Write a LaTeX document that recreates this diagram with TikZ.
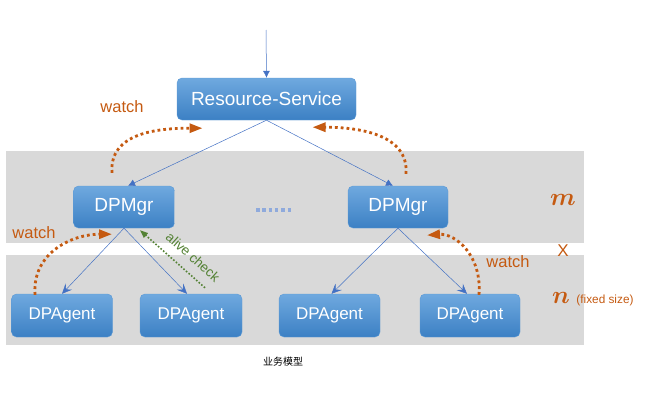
\documentclass[tikz,border=0pt]{standalone}
\usepackage{fontspec}
\setsansfont{Liberation Sans}
\newfontfamily\cjkfont{Noto Sans CJK SC}
\usetikzlibrary{arrows.meta,calc}
\definecolor{boxtop}{HTML}{6FA9DF}
\definecolor{boxbot}{HTML}{3C80C4}
\definecolor{boxedge}{HTML}{5C9AD6}
\definecolor{bandgray}{HTML}{D9D9D9}
\definecolor{connblue}{HTML}{4472C4}
\definecolor{dotblue}{HTML}{8FAADC}
\definecolor{watchorange}{HTML}{C55A11}
\definecolor{alivegreen}{HTML}{548235}
\begin{document}
\begin{tikzpicture}[x=1pt,y=-1pt,
  boxnode/.style={rectangle, rounded corners=5pt, top color=boxtop, bottom color=boxbot,
    draw=boxedge, line width=0.4pt, text=white, font=\sffamily\fontsize{19}{22}\selectfont,
    inner sep=0pt, minimum height=42pt},
  agentnode/.style={boxnode, font=\sffamily\fontsize{17}{20}\selectfont, minimum width=101pt, minimum height=43pt},
  conn/.style={draw=connblue, line width=0.5pt},
  topconn/.style={conn, -{Latex[length=7pt,width=7pt]}},
  lowconn/.style={conn, -{Stealth[length=10pt,width=9pt,inset=4pt]}},
  watcharrow/.style={draw=watchorange, line width=2.8pt, dash pattern=on 2.8pt off 3pt,
    -{Triangle[length=13pt,width=9pt]}, fill=none},
  alivearrow/.style={draw=alivegreen, line width=1.6pt, dash pattern=on 1.6pt off 1.8pt,
    -{Triangle[length=8pt,width=6pt]}},
  watchlabel/.style={text=watchorange, font=\sffamily\fontsize{16.5}{19}\selectfont, inner sep=0pt},
  sidelabel/.style={text=watchorange, inner sep=0pt}
]
\useasboundingbox (0,0) rectangle (646,407);
% bands
\fill[bandgray] (6,151) rectangle (584,243);
\fill[bandgray] (6,255) rectangle (584,345);

% nodes
\node[boxnode, minimum width=179pt] (rs) at (266.5,99) {Resource-Service};
\node[boxnode, minimum width=101pt] (mgrL) at (124,207) {DPMgr};
\node[boxnode, minimum width=100pt] (mgrR) at (398,207) {DPMgr};
\node[agentnode] (a1) at (62,315.5) {DPAgent};
\node[agentnode, minimum width=102pt] (a2) at (191,315.5) {DPAgent};
\node[agentnode] (a3) at (329.5,315.5) {DPAgent};
\node[agentnode, minimum width=100pt] (a4) at (470,315.5) {DPAgent};

% input arrow
\coordinate (input) at (266,30);
\draw[topconn] (input) -- (rs.north);

% tree connectors
\draw[topconn] (rs.south) -- ([xshift=4pt]mgrL.north);
\draw[topconn] (rs.south) -- ([xshift=-5pt]mgrR.north);
\draw[lowconn] (mgrL.south) -- (a1.north);
\draw[lowconn] (mgrL.south) -- ([xshift=-4pt]a2.north);
\draw[lowconn] (mgrR.south) -- ([xshift=2pt]a3.north);
\draw[lowconn] (mgrR.south) -- ([xshift=-3pt]a4.north);

% dots between managers
\draw[dotblue, line width=3.6pt, dash pattern=on 3.5pt off 2.8pt] (256,209.7) -- (291,209.7);

% watch arrows
\draw[watcharrow] ([shift={(-12pt,13pt)}]mgrL.north) .. controls +(-3,-40) and +(-45,0) .. ([shift={(-64pt,-8pt)}]rs.south);
\draw[watcharrow] ([shift={(8pt,12pt)}]mgrR.north) .. controls +(3,-40) and +(45,0) .. ([shift={(46pt,-7pt)}]rs.south);
\draw[watcharrow] ([shift={(-27pt,-1pt)}]a1.north) .. controls +(-3,-42) and +(-40,0) .. ([shift={(-12pt,-6pt)}]mgrL.south);
\draw[watcharrow] ([shift={(9pt,-1pt)}]a4.north) .. controls +(3,-40) and +(28,-2) .. ([shift={(29pt,-7pt)}]mgrR.south);

% alive check
\draw[alivearrow] ([shift={(14pt,6pt)}]a2.north) -- ([shift={(16pt,-2pt)}]mgrL.south);
\node[text=alivegreen, font=\sffamily\fontsize{13.5}{16}\selectfont, rotate=-42, inner sep=0pt] (alive) at (193,257) {alive check};

% labels
\node[watchlabel] (w1) at (122,107) {watch};
\node[watchlabel] (w2) at (34,233) {watch};
\node[watchlabel] (w3) at (508,262) {watch};
\node[sidelabel, font=\boldmath\fontsize{26}{28}\selectfont] (m) at (563,200) {$m$};
\node[sidelabel, font=\sffamily\fontsize{17}{20}\selectfont] (x) at (563,251) {X};
\node[sidelabel, font=\boldmath\fontsize{26}{28}\selectfont] (n) at (561,298) {$n$};
\node[sidelabel, font=\sffamily\fontsize{11.8}{14}\selectfont] (fs) at (605,300) {(fixed size)};
\node[inner sep=0pt, font=\cjkfont\fontsize{10}{12}\selectfont] (cap) at (283,362) {业务模型};
\end{tikzpicture}
\end{document}
